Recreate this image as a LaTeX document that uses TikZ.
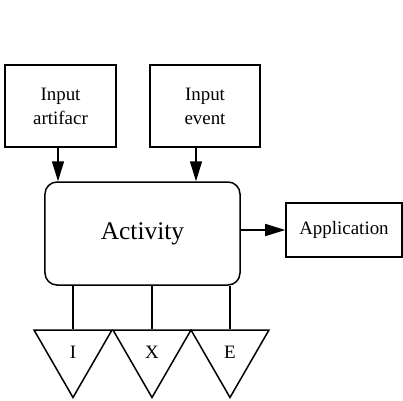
\documentclass[tikz,border=0pt]{standalone}
\usepackage{fontspec}
\setmainfont{Liberation Serif}
\usetikzlibrary{arrows.meta,shapes.geometric}
\begin{document}
\begin{tikzpicture}[x=1bp,y=-1bp,line width=1.5bp,
  box/.style={draw,align=center,inner sep=0pt,font=\fontsize{19}{24}\selectfont},
  tri/.style={draw,regular polygon,regular polygon sides=3,shape border rotate=180,minimum size=90bp,inner sep=0pt,font=\fontsize{19}{22}\selectfont},
  arr/.style={-{Triangle[length=20bp,width=12bp]}}]
            \useasboundingbox (0,0) rectangle (403,401);
            \node[box,minimum width=111bp,minimum height=82bp] (ia) at (60.5,106) {Input\\artifacr};
            \node[box,minimum width=110bp,minimum height=82bp] (ie) at (205,106) {Input\\event};
            \node[box,rounded corners=12bp,minimum width=195bp,minimum height=103bp,font=\fontsize{25.5}{30}\selectfont] (act) at (142.5,233.5) {Activity};
            \node[box,minimum width=116bp,minimum height=54bp] (app) at (344,230) {Application};
            \node[tri] (ti) at (73,352.5) {I};
            \node[tri] (tx) at (152,352.5) {X};
            \node[tri] (te) at (230,352.5) {E};
            \draw[arr] ([xshift=-2.5bp]ia.south) -- ([xshift=-2.5bp]ia.south |- act.north);
            \draw[arr] ([xshift=-9bp]ie.south) -- ([xshift=-9bp]ie.south |- act.north);
            \draw[arr] (act.east |- app.west) -- (app.west);
            \draw (act.south -| ti.north) -- (ti.north);
            \draw (act.south -| tx.north) -- (tx.north);
            \draw (act.south -| te.north) -- (te.north);
        \end{tikzpicture}
\end{document}
